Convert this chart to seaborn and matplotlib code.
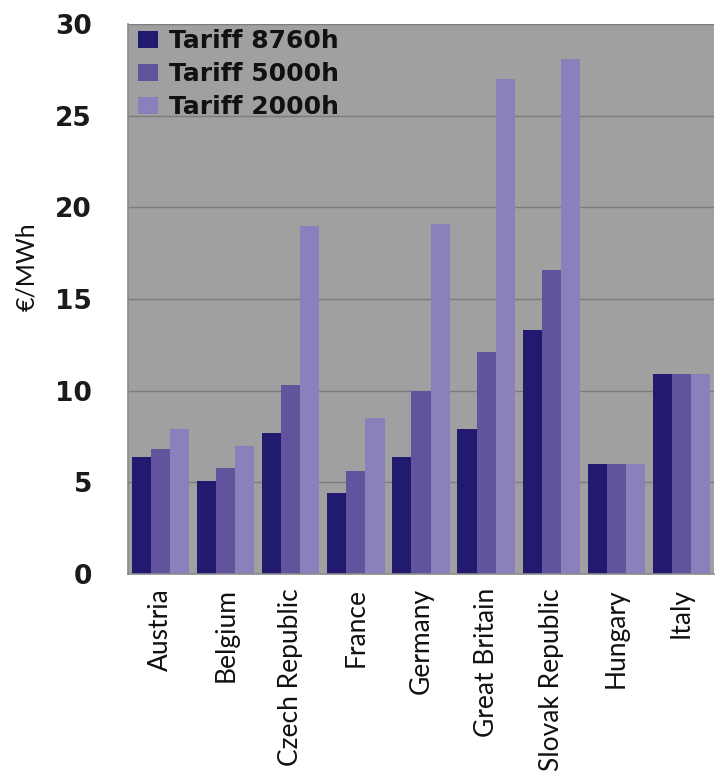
import matplotlib
matplotlib.use("Agg")
import matplotlib.pyplot as plt
import seaborn as sns
import pandas as pd
import numpy as np

countries = ["Austria", "Belgium", "Czech Republic", "France", "Germany",
             "Great Britain", "Slovak Republic", "Hungary", "Italy"]
series = ["Tariff 8760h", "Tariff 5000h", "Tariff 2000h"]
tariff_8760 = [6.4, 5.1, 7.7, 4.4, 6.4, 7.9, 13.3, 6.0, 10.9]
tariff_5000 = [6.8, 5.8, 10.3, 5.6, 10.0, 12.1, 16.6, 6.0, 10.9]
tariff_2000 = [7.9, 7.0, 19.0, 8.5, 19.1, 27.0, 28.1, 6.0, 10.9]
colors = ["#211a6f", "#62549c", "#8b80bc"]

rows = []
for name, vals in zip(series, [tariff_8760, tariff_5000, tariff_2000]):
    for c, v in zip(countries, vals):
        rows.append({"country": c, "series": name, "value": v})
df = pd.DataFrame(rows)

sns.set_style("white")
plt.rcParams["font.family"] = ["DejaVu Sans"]

W, H = 715, 778
fig = plt.figure(figsize=(W / 100, H / 100), dpi=100)
ax = fig.add_axes([128 / W, (H - 574) / H, 586 / W, 550 / H])
ax.set_facecolor("#a0a0a0")

sns.barplot(data=df, x="country", y="value", hue="series", order=countries,
            hue_order=series, palette=colors, width=0.88, saturation=1,
            linewidth=0, ax=ax)

ax.set_ylim(0, 30)
ax.set_xlim(-0.5, len(countries) - 0.5)
ax.set_yticks(np.arange(0, 31, 5))
ax.yaxis.grid(True, color="#7c7c7c", linewidth=1)
ax.set_axisbelow(True)

for side in ["top", "right"]:
    ax.spines[side].set_visible(False)
for side in ["left", "bottom"]:
    ax.spines[side].set_color("#8a8a8a")
    ax.spines[side].set_linewidth(1.2)

ax.tick_params(axis="y", length=8, color="#8a8a8a", width=1.2, pad=18,
               labelsize=19, labelcolor="#1a1a1a")
for lbl in ax.get_yticklabels():
    lbl.set_fontweight("bold")

ax.set_xticks(np.arange(len(countries)))
ax.set_xticklabels(countries, rotation=90, fontsize=19, family="Lato",
                   color="#111111")
ax.set_xticks(np.arange(-0.5, len(countries)), minor=True)
ax.tick_params(axis="x", which="major", length=0, pad=10)
ax.tick_params(axis="x", which="minor", length=10, color="#8a8a8a", width=1.2)

ax.set_xlabel("")
ax.set_ylabel("")
fig.text(27 / W, 1 - 267 / H, "€/MWh", rotation=90, ha="center", va="center",
         fontsize=18, family="Lato", color="#111111")

leg = ax.legend(loc="upper left", bbox_to_anchor=(10 / 586, 1 - 5 / 550),
                frameon=False, prop={"weight": "bold", "size": 18},
                handlelength=0.8, handleheight=0.68, handletextpad=0.45,
                labelspacing=0.36, borderaxespad=0, borderpad=0)
for t in leg.get_texts():
    t.set_color("#111111")

fig.savefig("out.png", dpi=100)
